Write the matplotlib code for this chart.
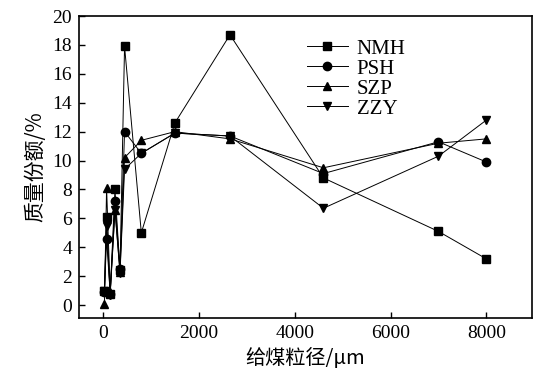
import matplotlib
matplotlib.use("Agg")
import matplotlib.pyplot as plt

x = [30, 75, 150, 250, 355, 450, 800, 1500, 2650, 4600, 7000, 8000]
NMH = [1.0, 6.1, 0.8, 8.0, 2.4, 17.9, 5.0, 12.6, 18.7, 8.8, 5.1, 3.2]
PSH = [0.9, 4.6, 0.8, 7.2, 2.5, 12.0, 10.5, 11.9, 11.7, 9.1, 11.3, 9.9]
SZP = [0.1, 8.1, 0.9, 6.6, 2.3, 10.2, 11.4, 12.0, 11.5, 9.5, 11.2, 11.5]
ZZY = [1.0, 5.5, 0.7, 6.6, 2.2, 9.4, 10.5, 11.9, 11.7, 6.7, 10.3, 12.8]
series = [("NMH", NMH, "s"), ("PSH", PSH, "o"), ("SZP", SZP, "^"), ("ZZY", ZZY, "v")]
xticks = [0, 2000, 4000, 6000, 8000]
yticks = list(range(0, 21, 2))

serif = ["Liberation Serif", "DejaVu Serif"]
cjk = ["Noto Sans CJK SC", "Liberation Serif"]

fig = plt.figure(figsize=(5.34, 3.81), dpi=100)
ax = fig.add_axes([0.148, 0.165, 0.848, 0.793])
for name, vals, m in series:
    ax.plot(x, vals, marker=m, color="black", lw=0.7, markersize=6, label=name)

ax.set_xlim(-500, 8950)
ax.set_ylim(-0.9, 20)
ax.set_xticks(xticks)
ax.set_yticks(yticks)
ax.tick_params(direction="in", length=4, width=1, labelsize=14, pad=5)
for lab in ax.get_xticklabels() + ax.get_yticklabels():
    lab.set_fontfamily(serif)
for s in ax.spines.values():
    s.set_linewidth(1.2)

ax.set_xlabel("给煤粒径/μm", fontsize=14.5, family=cjk, labelpad=4)
ax.set_ylabel("质量份额/%", fontsize=15, family=cjk, labelpad=4)

leg = ax.legend(loc="upper left", bbox_to_anchor=(0.475, 0.965), frameon=False,
                prop={"family": serif, "size": 15}, handlelength=2.0,
                handletextpad=0.4, labelspacing=0.02, borderaxespad=0.2)

fig.savefig("out.png", dpi=100)
